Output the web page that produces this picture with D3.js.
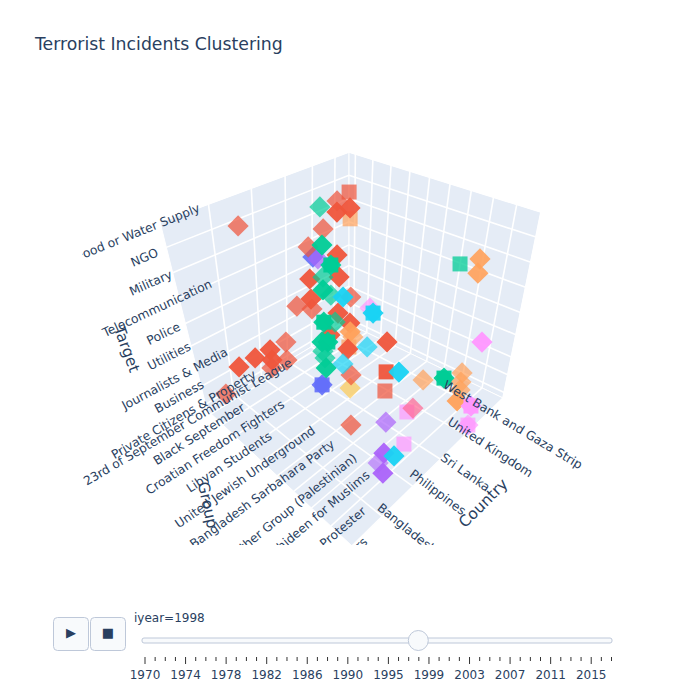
<!DOCTYPE html>
<html>
<head>
<meta charset="utf-8">
<script src="https://cdn.jsdelivr.net/npm/d3@7"></script>
<style>
  body { margin: 0; background: #fff; }
  text { font-family: "DejaVu Sans", sans-serif; fill: #2a3f5f; }
</style>
</head>
<body>
<div id="chart"></div>
<script>
const countries = ["Bangladesh", "Philippines", "Sri Lanka", "United Kingdom", "West Bank and Gaza Strip"];
const groups = ["23rd of September Communist League", "Black September", "Croatian Freedom Fighters", "Libyan Students", "United Jewish Underground", "Bangladesh Sarbahara Party", "Black Panther Group (Palestinian)", "Mujahideen for Muslims", "Protester", "Attackers"];
const targets = ["Private Citizens & Property", "Business", "Journalists & Media", "Utilities", "Police", "Telecommunication", "Military", "NGO", "Food or Water Supply"];
const years = [1970,1971,1972,1973,1974,1975,1976,1977,1978,1979,1980,1981,1982,1983,1984,1985,1986,1987,1988,1989,1990,1991,1992,1994,1995,1996,1997,1998,1999,2000,2001,2002,2003,2004,2005,2006,2007,2008,2009,2010,2011,2012,2013,2014,2015,2016,2017];
const yearLabels = [1970,1974,1978,1982,1986,1990,1995,1999,2003,2007,2011,2015];

// values per cluster
const blueGroup = [1, 6];
const blueCountry = [2.21, -0.08];
const blueTarget = [5.02, 3.60];
const yellowGroup = [7];
const yellowCountry = [0.09];
const yellowTarget = [3.83];
const orangeGroup = [3, 9, 8, 7, 6, 8, 9, 9, 9];
const orangeCountry = [2.20, 1.88, 3.19, 0.00, 3.70, 3.42, 2.19, 2.23, 2.20];
const orangeTarget = [7.09, 7.72, 6.05, 5.39, 0.11, 1.88, 3.05, 2.70, 2.29];
const magentaGroup = [2, 9, 9, 9, 8, 8];
const magentaCountry = [4.10, 2.80, 2.96, 3.02, 1.23, 1.33];
const magentaTarget = [2.03, 4.13, 1.23, 0.17, 2.25, 0.59];
const pinkGroup = [8];
const pinkCountry = [1.44];
const pinkTarget = [2.20];
const purpleGroup = [9, 9, 8, 9, 0];
const purpleCountry = [-0.19, -0.16, 0.46, -0.13, 3.02];
const purpleTarget = [4.03, 2.80, 0.80, 1.99, 4.27];
const salmonGroup = [1, 0, 1, 4, 3, 2, 0, 7, 1, 2, 1, 1, 4, 6, 6];
const salmonCountry = [3.59, 0.47, 3.08, 0.81, 0.95, 1.16, 2.80, -0.02, 1.29, 0.85, 0.80, -0.63, 2.06, 0.85, 2.00];
const salmonTarget = [7.02, 6.94, 6.86, 7.82, 6.73, 4.02, 2.14, 7.18, 2.00, 1.92, 1.03, 1.08, 0.96, 0.79, 1.26];
const redGroup = [0, 2, 0, 3, 5, 5, 0, 1, 1, 1, 2, 1, 3, 7, 5];
const redCountry = [3.83, 2.89, 3.87, 1.96, 0.07, 0.10, 3.96, 3.89, 3.01, -0.18, -0.07, 0.76, -0.01, 1.01, 2.78];
const redTarget = [5.85, 6.92, 4.04, 4.97, 6.91, 6.15, 1.06, 0.91, 0.92, 2.06, 2.78, 2.05, 3.08, 4.66, 0.94];
const orangeFrontGroup = [7, 1];
const orangeFrontCountry = [0.01, 4.06];
const orangeFrontTarget = [5.92, -0.05];
const redFrontGroup = [7];
const redFrontCountry = [-0.02];
const redFrontTarget = [5.34];
const greenGroup = [0, 2, 6, 4, 2, 1, 6, 3, 6, 6, 4, 4, 6, 8, 9];
const greenCountry = [3.07, 1.92, 0.04, 0.86, 2.03, 2.98, -0.07, 1.93, 0.03, -0.10, 0.97, 1.05, 0.01, 2.26, 1.42];
const greenTarget = [6.37, 5.93, 7.84, 5.99, 4.12, 2.98, 5.89, 3.16, 5.08, 5.21, 3.05, 2.70, 4.17, 6.94, 3.92];
const cyanGroup = [3, 8, 6, 5, 7, 8];
const cyanCountry = [2.16, -0.08, 1.12, 1.05, 1.58, 1.01];
const cyanTarget = [4.08, 7.14, 3.98, 2.89, 3.02, 0.41];

// draw order, colours and per point look (D diamond, S square, B both)
const markStyles = [
  [blueGroup, blueCountry, blueTarget, "#636efa", "DB", [.9, .9]],
  [yellowGroup, yellowCountry, yellowTarget, "#FECB52", "D", [.7]],
  [orangeGroup, orangeCountry, orangeTarget, "#FFA15A", "SDDSDDDDD", [.7, .9, .9, .7, .7, .7, .7, .7, .95]],
  [magentaGroup, magentaCountry, magentaTarget, "#FF97FF", "DDBBSS", [.7, .95, .95, .7, .7, .7]],
  [pinkGroup, pinkCountry, pinkTarget, "#FF6692", "D", [.7]],
  [purpleGroup, purpleCountry, purpleTarget, "#ab63fa", "DDDDD", [.7, .95, .6, .95, .7]],
  [salmonGroup, salmonCountry, salmonTarget, "#EF553B", "SDDDDDDDDDDDDDS", d3.range(15).map(() => .72)],
  [redGroup, redCountry, redTarget, "#EF553B", "DDDDDDDDDDDDDDS", d3.range(15).map(() => .95)],
  [orangeFrontGroup, orangeFrontCountry, orangeFrontTarget, "#FFA15A", "DD", [.9, .7]],
  [redFrontGroup, redFrontCountry, redFrontTarget, "#EF553B", "D", [.95]],
  [greenGroup, greenCountry, greenTarget, "#00cc96", "DDBDDDBDBDDDDSB", [.7, .95, .95, .7, .95, .7, .95, .7, .95, .95, .7, .7, .95, .75, .95]],
  [cyanGroup, cyanCountry, cyanTarget, "#19d3f3", "DBDDDD", [.95, .95, .7, .7, .95, .95]]
];

const svg = d3.select("#chart").append("svg").attr("width", 700).attr("height", 700);

// screen corners of the 3d box
const floorPts = [[207,410],[349,324],[503,398],[352,546]];
const floorWt = [1, 1.2364, 0.9357, 0.6993];
const topPts = [[160,222],[349,152],[541,212],[352,336]];
const topWt = [1, 1.85, 1.53, 0.68];

function rational(u, v, pts, wt) {
  const b = [(1-u)*(1-v)*wt[0], u*(1-v)*wt[1], u*v*wt[2], (1-u)*v*wt[3]];
  const s = d3.sum(b);
  return [d3.sum(b, (d,i) => d*pts[i][0])/s, d3.sum(b, (d,i) => d*pts[i][1])/s];
}
const uScale = d3.scaleLinear().domain([0, 4]).range([0.157, 0.871]);
const vScale = d3.scaleLinear().domain([0, 9]).range([0.04, 1]);
const wScale = d3.scaleLinear().domain([0, 2, 4, 6, 8]).range([0.03, 0.22, 0.46, 0.73, 1]);

function projectN(u, v, w) {
  const a = rational(u, v, floorPts, floorWt), b = rational(u, v, topPts, topWt);
  return [a[0]+w*(b[0]-a[0]), a[1]+w*(b[1]-a[1])];
}

svg.append("clipPath").attr("id", "sceneClip").append("rect").attr("x", 82).attr("y", 100).attr("width", 540).attr("height", 445);
const scene = svg.append("g").attr("clip-path", "url(#sceneClip)");

const line = d3.line();
function wall(corners) {
  scene.append("path").attr("d", line(corners.map(c => projectN(...c))) + "Z").attr("fill", "#e5ecf6").attr("stroke", "#fff").attr("stroke-width", 1);
}
function grid(a, b) {
  scene.append("path").attr("d", line([projectN(...a), projectN(...b)])).attr("stroke", "#fff").attr("stroke-width", 1.6).attr("fill", "none");
}
wall([[0,0,0],[1,0,0],[1,0,1],[0,0,1]]);
wall([[1,0,0],[1,1,0],[1,1,1],[1,0,1]]);
wall([[0,0,0],[1,0,0],[1,1,0],[0,1,0]]);

countries.forEach((d,i) => { const u = uScale(i);
  grid([u,0,0],[u,0,1]); grid([u,0,0],[u,1,0]); });
groups.forEach((d,i) => { const v = vScale(i);
  grid([1,v,0],[1,v,1]); grid([0,v,0],[1,v,0]); });
targets.forEach((d,i) => { const w = wScale(i);
  grid([0,0,w],[1,0,w]); grid([1,0,w],[1,1,w]); });

// marks
const square = d3.symbol(d3.symbolSquare, 225)();
markStyles.forEach(([g, c, t, color, shapes, alpha]) => {
  const marks = scene.append("g");
  g.forEach((d,i) => {
    const p = projectN(uScale(c[i]), vScale(d), wScale(t[i]));
    const one = rotate => marks.append("path").attr("d", square).attr("fill", color).attr("opacity", alpha[i])
      .attr("transform", `translate(${p[0]},${p[1]}) rotate(${rotate})`);
    if (shapes[i] !== "S") one(45);
    if (shapes[i] !== "D") one(0);
  });
});

// tick labels sit on top of the marks
const label = (p, dx, dy, rot, txt) => scene.append("text")
  .attr("transform", `translate(${p[0]+dx},${p[1]+dy}) rotate(${rot})`)
  .attr("text-anchor", "middle").attr("dy", "0.35em").style("font-size", "12.3px").text(txt);

const cRot = d3.scaleLinear().domain([0,4]).range([39,31]);
const cDy = d3.scaleLinear().domain([0,1,2,4]).range([12,6,13,12]);
countries.forEach((d,i) => label(projectN(uScale(i), 1, 0), 25, cDy(i), cRot(i), d));

const gDx = d3.scaleLinear().domain(d3.range(10)).range([-23.5,-23.6,-19.8,-18.9,-17,-15.2,-18.7,0.5,12,-8]);
const gDy = d3.scaleLinear().domain(d3.range(10)).range([8,9.4,11,13.6,15.4,18,29.7,12,1,13]);
const gRot = d3.scaleLinear().domain(d3.range(10)).range([-30.3,-32,-33,-33.5,-35,-36,-39,-40,-40,-42]);
groups.forEach((d,i) => label(projectN(0, vScale(i), 0), gDx(i), gDy(i), gRot(i), d));

const tRot = d3.scaleLinear().domain([0,8]).range([-30,-22]);
targets.forEach((d,i) => label(projectN(0, 0, wScale(i)), -22, 10, tRot(i), d));

[["Target",127,349,70],["Group",208,505,78],["Country",483,503,-45]].forEach(t => {
  scene.append("text").attr("transform", `translate(${t[1]},${t[2]}) rotate(${t[3]})`).attr("text-anchor","middle").attr("dy","0.35em").style("font-size","15.5px").text(t[0]);
});

svg.append("text").attr("x", 35).attr("y", 50).style("font-size","17.3px").text("Terrorist Incidents Clustering");

// slider
const xYear = d3.scalePoint().domain(years).range([144.5, 611]);
const slider = svg.append("g");
[[53,"\u25B6"],[90,"\u25A0"]].forEach(b => {
  slider.append("rect").attr("x", b[0]+.5).attr("y", 617.5).attr("width", 35).attr("height", 33).attr("rx", 4).attr("fill", "#f8fafc").attr("stroke", "#bec8d9");
  slider.append("text").attr("x", b[0]+18).attr("y", 632).attr("text-anchor","middle").attr("dy","0.35em").style("font-size","13px").text(b[1]);
});
slider.append("text").attr("x", 134).attr("y", 622).style("font-size","12px").text("iyear=1998");
slider.append("rect").attr("x", 142).attr("y", 638).attr("width", 470).attr("height", 5).attr("rx", 2).attr("fill", "#f8fafc").attr("stroke", "#bec8d9");
const axisG = slider.append("g").attr("transform", "translate(0,657)")
  .call(d3.axisBottom(xYear).tickValues(years).tickSize(4).tickFormat(d => yearLabels.includes(d) ? d : ""));
axisG.select(".domain").remove();
axisG.selectAll(".tick line").attr("stroke", "#333").attr("y2", d => yearLabels.includes(d) ? 7 : 4);
axisG.selectAll(".tick text").attr("y", 13).style("font-size","12px").style("fill", "#2a3f5f");
slider.append("circle").attr("cx", xYear(1998)).attr("cy", 640.5).attr("r", 10).attr("fill", "#f8fafc").attr("stroke", "#bec8d9");
</script>
</body>
</html>
